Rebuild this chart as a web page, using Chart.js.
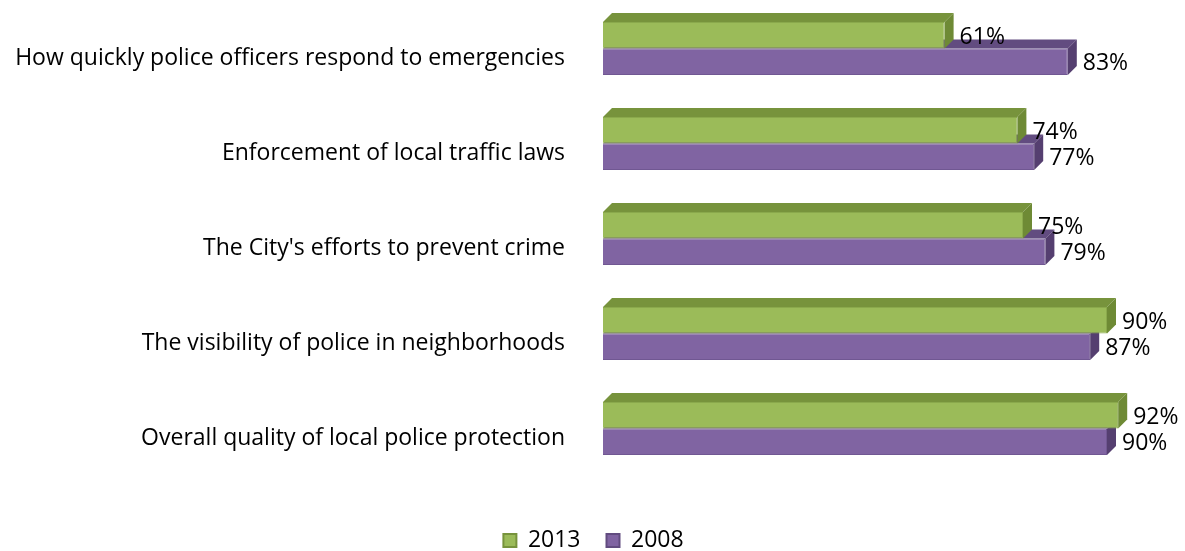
<!DOCTYPE html>
<html><head><meta charset="utf-8">
<script src="https://cdn.jsdelivr.net/npm/chart.js@4.4.1/dist/chart.umd.min.js"></script>
<style>html,body{margin:0;padding:0;background:#fff;overflow:hidden;} #wrap{width:1185px;height:551px;}</style>
</head><body><div id="wrap"><canvas id="c" width="1185" height="551"></canvas></div>
<script>
const categories = [
  "How quickly police officers respond to emergencies",
  "Enforcement of local traffic laws",
  "The City's efforts to prevent crime",
  "The visibility of police in neighborhoods",
  "Overall quality of local police protection"
];
const seriesNames = ["2013", "2008"];
const values2013 = [61, 74, 75, 90, 92];
const values2008 = [83, 77, 79, 87, 90];
const axisMin = 0;
const axisMax = 100;

const FONT = "'Open Sans', 'DejaVu Sans', sans-serif";
const FS = 23;
const DEPTH = 9;
const faceColors = [
  { front: '#9BBB59', edge: '#8AA94C', top: '#77933C', side: '#6E8A35' },
  { front: '#8064A2', edge: '#705792', top: '#624C80', side: '#553F70' }
];

Chart.defaults.font.family = FONT;
Chart.defaults.font.size = FS;
Chart.defaults.color = '#000';

const bar3d = {
  id: 'bar3d',
  beforeDatasetsDraw(chart) {
    const ctx = chart.ctx;
    ctx.save();
    [1, 0].forEach(di => {
      const meta = chart.getDatasetMeta(di);
      const c = faceColors[di];
      meta.data.forEach(bar => {
        const p = bar.getProps(['x', 'y', 'base', 'height'], true);
        const top = p.y - p.height / 2, bottom = p.y + p.height / 2;
        ctx.fillStyle = c.top;
        ctx.beginPath();
        ctx.moveTo(p.base, top);
        ctx.lineTo(p.base + DEPTH, top - DEPTH);
        ctx.lineTo(p.x + DEPTH, top - DEPTH);
        ctx.lineTo(p.x, top);
        ctx.closePath();
        ctx.fill();
        ctx.fillStyle = c.side;
        ctx.beginPath();
        ctx.moveTo(p.x, top);
        ctx.lineTo(p.x + DEPTH, top - DEPTH);
        ctx.lineTo(p.x + DEPTH, bottom - DEPTH);
        ctx.lineTo(p.x, bottom);
        ctx.closePath();
        ctx.fill();
      });
    });
    ctx.restore();
  },
  afterDatasetsDraw(chart) {
    const ctx = chart.ctx;
    ctx.save();
    ctx.font = FS + 'px ' + FONT;
    ctx.fillStyle = '#000';
    ctx.textAlign = 'left';
    ctx.textBaseline = 'middle';
    chart.data.datasets.forEach((ds, di) => {
      const meta = chart.getDatasetMeta(di);
      meta.data.forEach((bar, i) => {
        const p = bar.getProps(['x', 'y'], true);
        ctx.fillText(ds.data[i] + '%', p.x + DEPTH + 6, p.y + 2);
      });
    });
    ctx.restore();
  },
  afterLayout(chart) {
    if (chart.legend) {
      chart.legend.top += 27;
      chart.legend.bottom += 27;
      chart.legend.left += 12;
      chart.legend.right += 12;
    }
  }
};

new Chart(document.getElementById('c'), {
  type: 'bar',
  data: {
    labels: categories,
    datasets: [
      { label: seriesNames[0], data: values2013, backgroundColor: faceColors[0].front, borderColor: faceColors[0].edge, borderWidth: 1 },
      { label: seriesNames[1], data: values2008, backgroundColor: faceColors[1].front, borderColor: faceColors[1].edge, borderWidth: 1 }
    ]
  },
  options: {
    indexAxis: 'y',
    responsive: false,
    animation: false,
    layout: { padding: { top: 1, right: 22, bottom: 16, left: 0 } },
    datasets: { bar: { categoryPercentage: 0.56, barPercentage: 1 } },
    scales: {
      x: { display: false, min: axisMin, max: axisMax },
      y: {
        grid: { display: false, drawTicks: false, tickLength: 0 },
        border: { display: false },
        ticks: { color: '#000', font: { family: FONT, size: FS }, padding: 38, labelOffset: 10 },
        afterFit(s) { s.width = 603; s.paddingTop = 0; s.paddingBottom = 0; }
      }
    },
    plugins: {
      tooltip: { enabled: false },
      legend: {
        position: 'bottom',
        labels: {
          boxWidth: 13,
          boxHeight: 13,
          padding: 26,
          font: { family: FONT, size: FS },
          color: '#000',
          generateLabels(chart) {
            const items = Chart.defaults.plugins.legend.labels.generateLabels(chart);
            items.forEach((it, i) => {
              it.fillStyle = faceColors[i].front;
              it.strokeStyle = faceColors[i].top;
              it.lineWidth = 2;
            });
            return items;
          }
        }
      }
    }
  },
  plugins: [bar3d]
});
</script>
</body></html>
